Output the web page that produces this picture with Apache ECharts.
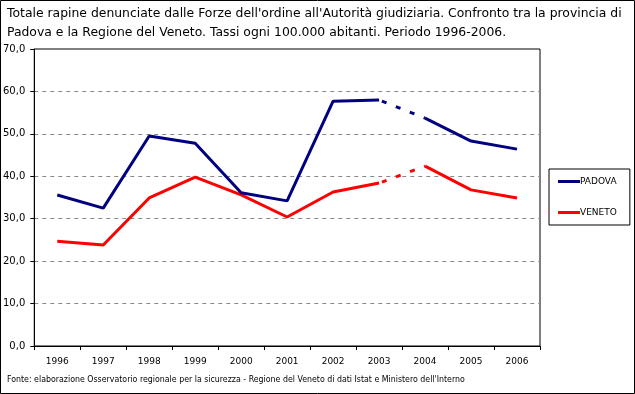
<!DOCTYPE html>
<html><head><meta charset="utf-8">
<script src="https://cdn.jsdelivr.net/npm/echarts@6/dist/echarts.min.js"></script>
<style>html,body{margin:0;padding:0;background:#fff}#c{width:635px;height:394px}</style>
</head><body><div id="c"></div>
<script>
const years = ['1996','1997','1998','1999','2000','2001','2002','2003','2004','2005','2006'];
const padova = [35.6, 32.5, 49.5, 47.8, 36.1, 34.2, 57.7, 58.0, 53.7, 48.3, 46.4];
const veneto = [24.7, 23.8, 34.9, 39.8, 35.6, 30.4, 36.3, 38.4, 42.4, 36.8, 34.9];
const seriesNames = ['PADOVA', 'VENETO'];
const titleText = "Totale rapine denunciate dalle Forze dell'ordine all'Autorità giudiziaria. Confronto tra la provincia di\nPadova e la Regione del Veneto. Tassi ogni 100.000 abitanti. Periodo 1996-2006.";
const sourceText = "Fonte: elaborazione Osservatorio regionale per la sicurezza - Regione del Veneto di dati Istat e Ministero dell'Interno";
const breakIdx = 7; // dashed between 2003 and 2004

function part(arr, from, to) {
  return arr.map((v, i) => (i >= from && i <= to) ? v : null);
}
const colors = ['#000080', '#ff0000'];
const datas = [padova, veneto];
const series = [];
datas.forEach((d, k) => {
  const base = {name: seriesNames[k], type: 'line', symbol: 'none', connectNulls: false,
    lineStyle: {color: colors[k], width: 3}, itemStyle: {color: colors[k]}, z: 3 - k, animation: false};
  series.push(Object.assign({}, base, {data: part(d, 0, breakIdx)}));
  series.push(Object.assign({}, base, {data: part(d, breakIdx, breakIdx + 1), lineStyle: {color: colors[k], width: 3, type: [5, 10], dashOffset: 12}}));
  series.push(Object.assign({}, base, {data: part(d, breakIdx + 1, d.length - 1)}));
});

const chart = echarts.init(document.getElementById('c'), null, {renderer: 'canvas'});
chart.setOption({
  animation: false,
  textStyle: {fontFamily: 'DejaVu Sans'},
  graphic: [
    {type: 'rect', shape: {x: 0.5, y: 0.5, width: 634, height: 393}, style: {fill: 'none', stroke: '#000', lineWidth: 1}, silent: true},
    {type: 'text', left: 7, top: 4, style: {text: titleText, font: '12.4px "DejaVu Sans"', fill: '#000', lineHeight: 19}},
    {type: 'text', left: 7, top: 375, style: {text: sourceText, font: '8.75px "DejaVu Sans Condensed"', fill: '#000'}}
  ],
  grid: {left: 32, right: 95, top: 49, bottom: 48, containLabel: false, show: true, borderColor: '#000', borderWidth: 1, backgroundColor: 'transparent'},
  legend: {
    data: seriesNames, orient: 'vertical', left: 549, top: 169,
    borderColor: '#000', borderWidth: 1, padding: [7, 13, 7, 9], itemGap: 20,
    itemWidth: 22, itemHeight: 3, icon: 'rect',
    textStyle: {fontSize: 9, color: '#000', padding: [0, 0, 0, -5], lineHeight: 11}
  },
  xAxis: {
    type: 'category', data: years, boundaryGap: true,
    axisLine: {lineStyle: {color: '#000', width: 1}},
    axisTick: {show: true, interval: 0, length: 4, lineStyle: {color: '#000'}},
    axisLabel: {color: '#000', fontSize: 9, margin: 11, interval: 0}
  },
  yAxis: {
    type: 'value', min: 0, max: 70, interval: 10,
    axisLine: {show: true, lineStyle: {color: '#000', width: 1}},
    axisTick: {show: true, length: 4, lineStyle: {color: '#000'}},
    axisLabel: {color: '#000', fontSize: 10, margin: 9, formatter: v => v.toFixed(1).replace('.', ',')},
    splitLine: {show: true, showMinLine: false, showMaxLine: false, lineStyle: {color: '#888', type: [4, 4], width: 1}}
  },
  series: series
});
</script>
</body></html>
